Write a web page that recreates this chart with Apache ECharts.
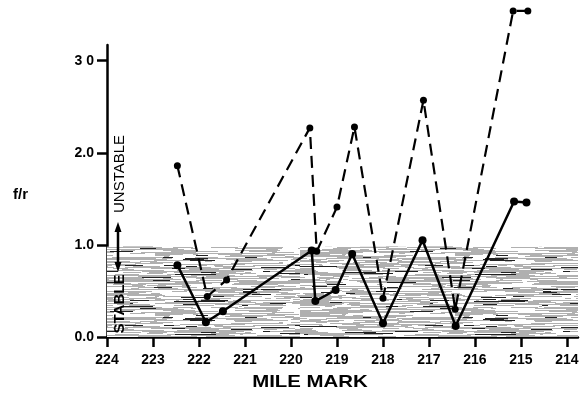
<!DOCTYPE html>
<html>
<head>
<meta charset="utf-8">
<script src="https://cdn.jsdelivr.net/npm/echarts@6/dist/echarts.min.js"></script>
<style>html,body{margin:0;padding:0;background:#fff}#c{width:584px;height:402px}</style>
</head>
<body>
<div id="c"></div>
<script>
// ---- data ----
var xTicks = [224, 223, 222, 221, 220, 219, 218, 217, 216, 215, 214];
var yTicks = [0, 1, 2, 3];
var yTickLabels = ['0.0', '1.0', '2.0', '3 0'];
var dashedMiles = [222.47, 221.82, 221.4, 219.59, 219.44, 219.0, 218.62, 218.0, 217.12, 216.43, 215.17, 214.85];
var dashedFR    = [1.86, 0.44, 0.62, 2.27, 0.93, 1.41, 2.28, 0.42, 2.57, 0.30, 3.54, 3.54];
var solidMiles  = [222.47, 221.85, 221.48, 219.55, 219.47, 219.03, 218.67, 218.0, 217.14, 216.42, 215.15, 214.88];
var solidFR     = [0.78, 0.16, 0.28, 0.94, 0.39, 0.51, 0.90, 0.15, 1.05, 0.12, 1.47, 1.46];
var stableBand  = [0, 0.98];
var xRange = [213.76, 224];
var yMax = 3.17;

// ---- texture for stable band ----
function makePattern() {
  var c = document.createElement('canvas');
  c.width = 300; c.height = 60;
  var g = c.getContext('2d');
  g.fillStyle = '#ffffff';
  g.fillRect(0, 0, c.width, c.height);
  var s = 11;
  function rnd() { s = (s * 16807) % 2147483647; return s / 2147483647; }
  for (var y = 0; y < c.height; y += 1) {
    var x = 0;
    while (x < c.width) {
      var len = 3 + Math.floor(rnd() * 28);
      var r = rnd();
      g.fillStyle = r < 0.5 ? '#b0b0b0' : (r < 0.56 ? '#222222' : '#ffffff');
      g.fillRect(x, y, len, 1);
      x += len;
    }
  }
  return c;
}

function pairs(xs, ys) { return xs.map(function (x, i) { return [x, ys[i]]; }); }

var chart = echarts.init(document.getElementById('c'));
var FONT = '"Liberation Sans", Arial, sans-serif';
chart.setOption({
  animation: false,
  grid: { left: 107, right: 6, top: 45, bottom: 65 },
  xAxis: {
    type: 'value', inverse: true, min: xRange[0], max: xRange[1],
    axisLine: { lineStyle: { color: '#000', width: 2.5 } },
    axisTick: { show: true, customValues: xTicks, length: 10, lineStyle: { color: '#000', width: 2.5 } },
    axisLabel: { customValues: xTicks, color: '#000', fontSize: 14, fontWeight: 'bold', fontFamily: FONT, margin: 16 },
    splitLine: { show: false }
  },
  yAxis: {
    type: 'value', min: 0, max: yMax,
    axisLine: { show: true, lineStyle: { color: '#000', width: 2.5 } },
    axisTick: { show: true, customValues: yTicks, length: 10, lineStyle: { color: '#000', width: 2.5 } },
    axisLabel: {
      customValues: yTicks, color: '#000', fontSize: 14, fontWeight: 'bold', fontFamily: FONT, margin: 13,
      formatter: function (v) { return yTickLabels[yTicks.indexOf(Math.round(v))]; }
    },
    splitLine: { show: false }
  },
  series: [
    {
      type: 'line', clip: false, z: 3,
      data: pairs(solidMiles, solidFR),
      symbol: 'circle', symbolSize: 8,
      itemStyle: { color: '#000' },
      lineStyle: { color: '#000', width: 2.5 },
      markArea: {
        silent: true,
        itemStyle: { color: { image: makePattern(), repeat: 'repeat' } },
        data: [[{ xAxis: xRange[1], yAxis: stableBand[0] }, { xAxis: xRange[0], yAxis: stableBand[1] }]]
      }
    },
    {
      type: 'line', clip: false, z: 4,
      data: pairs(dashedMiles, dashedFR),
      symbol: 'circle', symbolSize: 7,
      itemStyle: { color: '#000' },
      lineStyle: { color: '#000', width: 2.2, type: [12, 7] }
    }
  ],
  graphic: [
    { type: 'text', left: 13, top: 187, style: { text: 'f/r', font: 'bold 15px ' + FONT, fill: '#000' } },
    { type: 'text', x: 310, y: 382, scaleX: 1.2, style: { text: 'MILE MARK', font: 'bold 17px ' + FONT, fill: '#000', align: 'center', verticalAlign: 'middle' } },
    { type: 'text', x: 120, y: 174, rotation: Math.PI / 2, z: 10, style: { text: 'UNSTABLE', font: '15px ' + FONT, fill: '#000', align: 'center', verticalAlign: 'middle' } },
    { type: 'text', x: 120, y: 304, rotation: Math.PI / 2, z: 10, style: { text: 'STABLE', font: 'bold 15px ' + FONT, fill: '#000', align: 'center', verticalAlign: 'middle' } },
    { type: 'line', z: 10, shape: { x1: 118, y1: 229, x2: 118, y2: 266 }, style: { stroke: '#000', lineWidth: 2.5 } },
    { type: 'polygon', z: 10, shape: { points: [[118, 222], [114.5, 232], [121.5, 232]] }, style: { fill: '#000' } },
    { type: 'polygon', z: 10, shape: { points: [[118, 272], [114.5, 262], [121.5, 262]] }, style: { fill: '#000' } }
  ]
});
</script>
</body>
</html>
